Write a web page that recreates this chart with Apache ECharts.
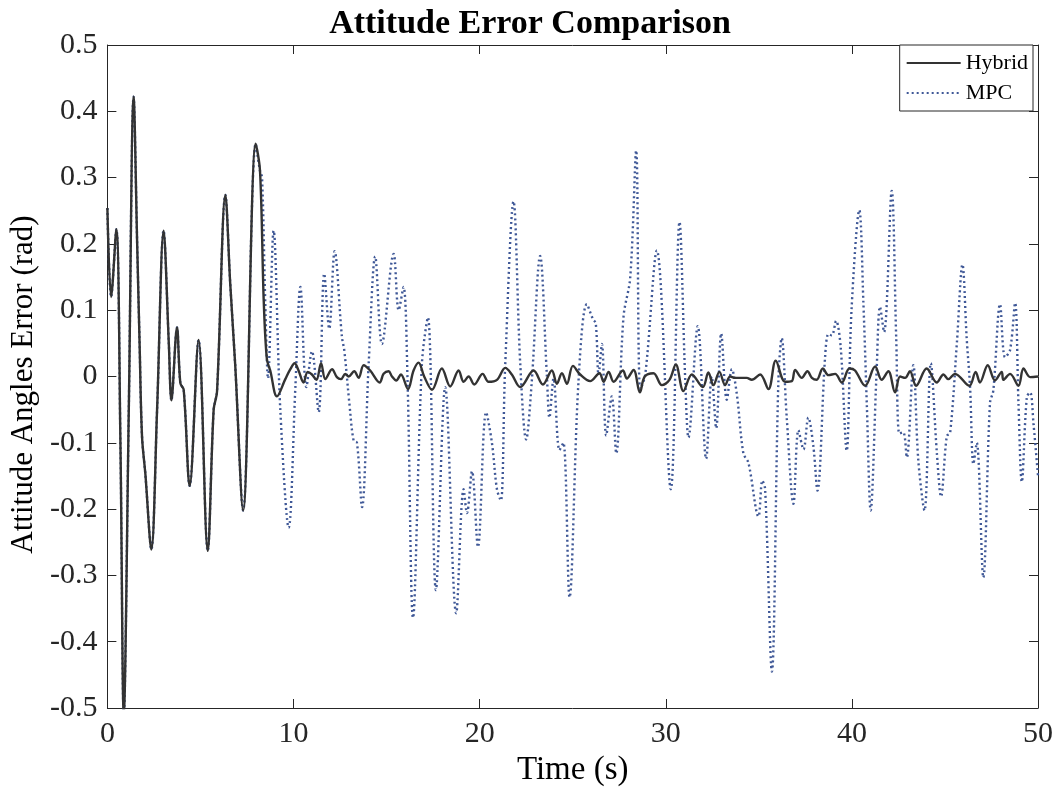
<!DOCTYPE html>
<html>
<head>
<meta charset="utf-8">
<script src="https://cdn.jsdelivr.net/npm/echarts@6/dist/echarts.min.js"></script>
<style>
html,body{margin:0;padding:0;background:#fff;}
#c{width:1060px;height:793px;}
</style>
</head>
<body>
<div id="c"></div>
<script>
// Shared initial transient (both controllers identical until ~8.2 s)
const commonT = [0, 0.2, 0.48, 0.7, 0.88, 1.15, 1.41, 1.6, 1.73, 1.86, 2.04, 2.36, 2.67, 3.02, 3.3, 3.44, 3.74, 3.92, 4.1, 4.42, 4.9, 5.39, 5.71, 5.89, 6.34, 6.6, 6.87, 7.29, 7.97, 8.2];
const commonV = [0.254, 0.12, 0.222, -0.1, -0.51, -0.05, 0.422, 0.2, 0.05, -0.09, -0.147, -0.261, -0.05, 0.22, 0.05, -0.036, 0.074, -0.01, -0.02, -0.165, 0.055, -0.263, -0.05, -0.023, 0.274, 0.14, 0.016, -0.202, 0.351, 0.31];

const hybridT = [8.4, 8.57, 8.75, 9.11, 9.56, 9.83, 10.06, 10.27, 10.54, 10.76, 10.99, 11.23, 11.48, 11.71, 12.07, 12.33, 12.55, 12.78, 12.96, 13.26, 13.5, 13.77, 14.12, 14.63, 14.84, 15.11, 15.29, 15.52, 15.77, 16.15, 16.45, 16.72, 17.02, 17.44, 17.97, 18.42, 18.87, 19.14, 19.41, 19.71, 20.16, 20.48, 20.93, 21.38, 21.73, 22.18, 22.9, 23.4, 23.88, 24.15, 24.42, 24.69, 25.01, 25.4, 25.94, 26.44, 26.66, 26.93, 27.2, 27.7, 27.91, 28.27, 28.61, 28.87, 29.34, 29.79, 30.2, 30.54, 30.95, 31.4, 31.99, 32.29, 32.56, 32.88, 33.19, 33.46, 33.73, 34.35, 34.62, 35.07, 35.52, 35.91, 36.41, 36.77, 36.95, 37.31, 37.61, 37.85, 38.11, 38.44, 38.74, 39.1, 39.46, 39.87, 40.17, 40.71, 41.25, 41.6, 41.96, 42.32, 42.59, 42.86, 43.12, 43.45, 44.02, 44.56, 44.92, 45.18, 45.54, 46.31, 46.65, 46.88, 47.3, 47.69, 48.05, 48.14, 48.5, 48.95, 49.22, 49.58, 50];
const hybridV = [0.114, 0.026, 0.009, -0.03, -0.004, 0.011, 0.02, 0.009, -0.009, 0.007, 0.003, -0.005, 0.02, -0.004, 0.011, -0.001, -0.004, 0.004, 0, 0.008, -0.002, 0.017, 0.009, -0.009, 0.004, 0.008, 0, -0.006, 0.003, -0.019, 0.009, 0.021, 0, -0.02, 0.012, -0.015, 0.009, -0.008, 0, -0.012, 0.004, -0.008, -0.005, 0.013, 0.003, -0.016, 0.009, -0.012, 0.009, -0.011, 0.005, -0.011, 0.016, 0.003, -0.007, 0.005, -0.008, 0.007, -0.008, 0.009, -0.003, 0.01, -0.024, 0, 0.005, -0.013, -0.005, 0.018, -0.022, 0.003, -0.016, 0.006, -0.013, 0.007, -0.013, 0, -0.002, -0.002, -0.005, 0.003, -0.019, 0.024, -0.008, -0.007, 0.01, -0.002, 0.008, -0.002, -0.005, 0.012, 0.002, 0.004, -0.009, 0.012, 0.009, -0.014, 0.015, -0.005, 0.008, -0.024, 0, -0.002, 0.008, -0.014, 0.012, -0.009, 0.003, -0.004, 0.004, -0.014, 0.007, -0.009, 0.017, -0.006, 0.007, -0.005, 0.004, -0.014, 0.012, -0.001, 0];

const mpcT = [8.31, 8.48, 8.63, 8.93, 9.29, 9.74, 10.1, 10.37, 10.69, 10.99, 11.35, 11.65, 11.92, 12.21, 12.6, 12.73, 13.0, 13.23, 13.41, 13.68, 14.04, 14.39, 14.75, 15.38, 15.65, 15.91, 16.13, 16.42, 16.9, 17.22, 17.65, 18.15, 18.74, 19.14, 19.32, 19.59, 19.91, 20.35, 20.66, 20.93, 21.14, 21.37, 21.82, 22.18, 22.5, 22.8, 23.25, 23.61, 23.75, 23.97, 24.29, 24.5, 24.83, 25.31, 25.76, 26.08, 26.24, 26.39, 26.57, 26.8, 27.1, 27.34, 27.73, 28.09, 28.41, 28.63, 28.9, 29.52, 30.27, 30.74, 31.05, 31.22, 31.72, 32.17, 32.47, 32.71, 32.98, 33.28, 33.55, 33.82, 34.17, 34.44, 34.98, 35.19, 35.34, 35.7, 36.05, 36.23, 36.5, 36.86, 37.13, 37.4, 37.66, 37.93, 38.15, 38.56, 38.74, 38.92, 39.15, 39.4, 39.72, 39.98, 40.4, 40.62, 40.8, 41.01, 41.33, 41.51, 41.73, 42.14, 42.38, 42.55, 42.76, 42.95, 43.3, 43.57, 43.9, 44.24, 44.57, 44.79, 45.1, 45.28, 45.64, 45.94, 46.17, 46.35, 46.53, 46.71, 47.06, 47.42, 47.6, 47.96, 48.23, 48.5, 48.77, 48.95, 49.13, 49.4, 49.58, 49.76, 50];
const mpcV = [0.30, 0.114, -0.003, 0.22, -0.05, -0.228, -0.016, 0.135, -0.016, 0.038, -0.054, 0.155, 0.072, 0.189, 0.06, 0.039, -0.04, -0.097, -0.1, -0.197, 0.02, 0.181, 0.049, 0.185, 0.1, 0.135, -0.01, -0.364, 0.02, 0.089, -0.322, -0.016, -0.357, -0.17, -0.206, -0.143, -0.257, -0.054, -0.1, -0.17, -0.187, 0.014, 0.264, 0.02, -0.095, -0.008, 0.182, 0.003, -0.062, -0.003, -0.111, -0.1, -0.333, -0.008, 0.109, 0.087, 0.08, 0.003, 0.049, -0.089, -0.03, -0.116, 0.09, 0.149, 0.341, -0.019, 0.003, 0.19, -0.17, 0.233, -0.008, -0.092, 0.076, -0.124, 0.0, -0.078, 0.065, -0.035, 0.011, -0.027, -0.116, -0.13, -0.211, -0.157, -0.17, -0.445, -0.008, 0.058, -0.062, -0.192, -0.081, -0.11, -0.062, -0.105, -0.172, 0.029, 0.064, 0.062, 0.084, 0.044, -0.112, 0.1, 0.251, 0.11, -0.04, -0.202, 0.009, 0.105, 0.067, 0.28, 0.06, -0.086, -0.084, -0.122, 0.017, -0.127, -0.202, 0.02, -0.117, -0.181, -0.09, -0.085, 0.05, 0.169, 0.057, -0.016, -0.132, -0.1, -0.303, -0.04, -0.021, 0.109, 0.029, 0.04, 0.111, -0.04, -0.159, -0.031, -0.024, -0.072, -0.15];

const seriesNames = ['Hybrid', 'MPC'];
const titleText = 'Attitude Error Comparison';
const xName = 'Time (s)';
const yName = 'Attitude Angles Error (rad)';

function pairs(ts, vs) { return ts.map((t, i) => [t, vs[i]]); }
const common = pairs(commonT, commonV);
const hybridData = common.concat(pairs(hybridT, hybridV));
const mpcData = common.concat(pairs(mpcT, mpcV));

const FONT = '"Liberation Serif", "Times New Roman", serif';
const chart = echarts.init(document.getElementById('c'), null, {renderer: 'canvas'});
const axisLine = {show: true, onZero: false, lineStyle: {color: '#262626', width: 1}};
const tick = {show: true, inside: true, length: 9, lineStyle: {color: '#262626', width: 1}};

chart.setOption({
  backgroundColor: '#ffffff',
  animation: false,
  title: {
    text: titleText, left: 'center', top: 2,
    textStyle: {fontFamily: FONT, fontSize: 34, fontWeight: 'bold', color: '#000'}
  },
  legend: {
    right: 27, top: 45, orient: 'vertical',
    data: seriesNames,
    backgroundColor: '#fff', borderColor: '#262626', borderWidth: 1,
    padding: [7, 5, 7, 6], itemGap: 8, itemWidth: 54, itemHeight: 22,
    itemStyle: {opacity: 0},
    textStyle: {fontFamily: FONT, fontSize: 22, color: '#000'}
  },
  grid: {left: 107, right: 22, top: 45, bottom: 85, containLabel: false},
  xAxis: [{
    type: 'value', min: 0, max: 50, interval: 10,
    name: xName, nameLocation: 'middle', nameGap: 46,
    nameTextStyle: {fontFamily: FONT, fontSize: 33, color: '#000'},
    axisLine: axisLine, axisTick: tick, splitLine: {show: false},
    axisLabel: {fontFamily: FONT, fontSize: 30, color: '#262626', margin: 11}
  }, {
    type: 'value', min: 0, max: 50, interval: 10, position: 'top',
    axisLine: axisLine, axisTick: tick, splitLine: {show: false},
    axisLabel: {show: false}
  }],
  yAxis: [{
    type: 'value', min: -0.5, max: 0.5, interval: 0.1,
    name: yName, nameLocation: 'middle', nameGap: 62,
    nameTextStyle: {fontFamily: FONT, fontSize: 31, color: '#000', padding: [0, 16, 0, 0]},
    axisLine: axisLine, axisTick: tick, splitLine: {show: false},
    axisLabel: {fontFamily: FONT, fontSize: 30, color: '#262626', margin: 10,
      formatter: v => String(Math.round(v * 10) / 10)}
  }, {
    type: 'value', min: -0.5, max: 0.5, interval: 0.1, position: 'right',
    axisLine: axisLine, axisTick: tick, splitLine: {show: false},
    axisLabel: {show: false}
  }],
  series: [{
    name: seriesNames[1], type: 'line', data: mpcData,
    showSymbol: false, symbol: 'none', smooth: 0.35, clip: true,
    lineStyle: {color: '#3f5897', width: 2.4, type: [2, 3]},
    itemStyle: {color: '#3f5897'}, z: 2
  }, {
    name: seriesNames[0], type: 'line', data: hybridData,
    showSymbol: false, symbol: 'none', smooth: 0.35, clip: true,
    lineStyle: {color: '#333333', width: 2.4},
    itemStyle: {color: '#333333'}, z: 3
  }]
});
</script>
</body>
</html>
